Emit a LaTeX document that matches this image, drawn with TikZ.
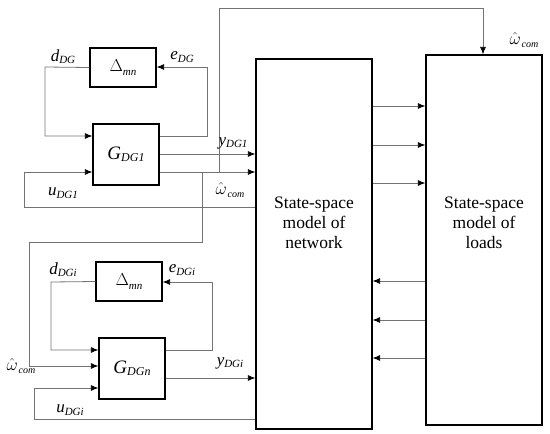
\documentclass[tikz,border=0pt]{standalone}
\usepackage{fontspec}
\setmainfont{Liberation Serif}
\usetikzlibrary{arrows.meta,calc}
\newcommand\sbs[2]{\raisebox{-0.5ex}{\fontsize{#1}{#1}\selectfont\itshape #2}}
\newcommand\bigit[2]{{\fontsize{#1}{#1}\selectfont\itshape #2}}
\newcommand\om[1]{{\fontsize{#1}{#1}\selectfont$\hat{\omega}$\kern1pt}}
\tikzset{
  blk/.style={draw=black,line width=1.2pt,fill=white,inner sep=0pt},
  wire/.style={draw=black!55,line width=0.8pt},
  arr/.style={wire,-{Latex[length=7.5pt,width=6pt,black]}},
  lab/.style={inner sep=0pt,anchor=center},
}
\begin{document}
\begin{tikzpicture}[x=1pt,y=-1pt]
\useasboundingbox (0,0) rectangle (550,434);
% blocks
\node[blk,minimum width=66pt,minimum height=39pt] (D1) at (123,67.5) {\fontsize{16}{16}\selectfont$\Delta$\sbs{11}{mn}};
\node[blk,minimum width=66pt,minimum height=61pt] (G1) at (126,154.5) {\bigit{19}{G}\sbs{12}{DG1}};
\node[blk,minimum width=66pt,minimum height=39pt] (D2) at (129,281.5) {\fontsize{16}{16}\selectfont$\Delta$\sbs{11}{mn}};
\node[blk,minimum width=66pt,minimum height=61pt] (G2) at (132,368.5) {\bigit{19}{G}\sbs{12}{DGn}};
\node[blk,minimum width=116pt,minimum height=370pt] (N) at (314,244) {};
\node[blk,minimum width=116pt,minimum height=370pt] (L) at (484,240) {};
\node[lab,align=center,font=\fontsize{17.5}{20}\selectfont] (Nt) at (314,223) {State-space\\model of\\network};
\node[lab,align=center,font=\fontsize{17.5}{20}\selectfont] (Lt) at (484,223) {State-space\\model of\\loads};
% coordinates
\coordinate (c1) at (45,67);
\coordinate (c2) at (45,136);
\coordinate (c3) at (207,136);
\coordinate (c4) at (207,67);
\coordinate (u1a) at (24,207);
\coordinate (u1b) at (24,172);
\coordinate (b1) at (202,172);
\coordinate (b1d) at (202,242);
\coordinate (b1e) at (29,242);
\coordinate (b1f) at (29,366);
\coordinate (b2) at (219,172);
\coordinate (b2u) at (219,8);
\coordinate (b2r) at (483,8);
\coordinate (c5) at (51,282);
\coordinate (c6) at (51,350);
\coordinate (c7) at (212,350);
\coordinate (c8) at (212,282);
\coordinate (u2a) at (34,419);
\coordinate (u2b) at (34,388);
% DG1 loop
\draw[arr] (D1.west) -- (c1) -- (c2) -- (G1.west |- c2);
\draw[arr] (G1.east |- c3) -- (c3) -- (c4) -- (D1.east |- c4);
\draw[arr] (G1.east |- 0,154) -- (N.west |- 0,154);
\draw[arr] (G1.east |- 0,172) -- (N.west |- 0,172);
\draw[arr] (N.west |- u1a) -- (u1a) -- (u1b) -- (G1.west |- u1b);
% omega branches
\draw[wire] (b1) -- (b1d) -- (b1e) -- (b1f);
\draw[arr] (b1f) -- (G2.west |- b1f);
\draw[wire] (b2) -- (b2u) -- (b2r);
\draw[arr] (b2r) -- (L.north -| b2r);
% DGi loop
\draw[arr] (D2.west) -- (c5) -- (c6) -- (G2.west |- c6);
\draw[arr] (G2.east |- c7) -- (c7) -- (c8) -- (D2.east |- c8);
\draw[arr] (G2.east |- 0,378) -- (N.west |- 0,378);
\draw[arr] (N.west |- u2a) -- (u2a) -- (u2b) -- (G2.west |- u2b);
% network <-> loads
\foreach \yy in {106,145,183}{\draw[arr] (N.east |- 0,\yy) -- (L.west |- 0,\yy);}
\foreach \yy in {281,320,358}{\draw[arr] (L.west |- 0,\yy) -- (N.east |- 0,\yy);}
% labels
\node[lab] (ld1) at (63,57) {\bigit{17}{d}\sbs{11}{DG}};
\node[lab] (le1) at (182,57) {\bigit{17}{e}\sbs{11}{DG}};
\node[lab] (lu1) at (63,193) {\bigit{17}{u}\sbs{11}{DG1}};
\node[lab] (ly1) at (233,143) {\bigit{17}{y}\sbs{11}{DG1}};
\node[lab] (lw1) at (230,190) {\om{16}\sbs{10}{com}};
\node[lab] (ld2) at (63,270) {\bigit{17}{d}\sbs{11}{DGi}};
\node[lab] (le2) at (182,270) {\bigit{17}{e}\sbs{11}{DGi}};
\node[lab] (lw2) at (21,366) {\om{16}\sbs{10}{com}};
\node[lab] (lu2) at (70,410) {\bigit{17}{u}\sbs{11}{DGi}};
\node[lab] (ly2) at (230,363) {\bigit{17}{y}\sbs{11}{DGi}};
\node[lab] (lw3) at (524,40) {\om{16}\sbs{10}{com}};
\end{tikzpicture}
\end{document}
